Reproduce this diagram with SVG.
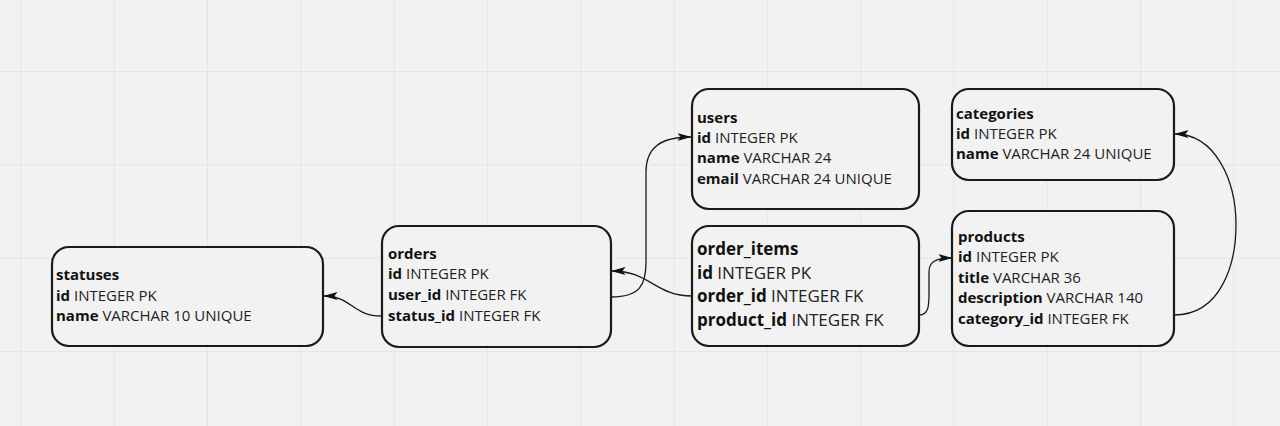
<svg xmlns="http://www.w3.org/2000/svg" width="1280" height="426" viewBox="0 0 1280 426">
  <defs>
    <pattern id="grid" x="20.4" y="-22.3" width="93.3" height="93.3" patternUnits="userSpaceOnUse">
      <path d="M0,0 L0,93.3 M0,0 L93.3,0" fill="none" stroke="#e4e4e4" stroke-width="2"/>
    </pattern>
    <marker id="arrow" viewBox="0 0 14 8" refX="13.5" refY="4" markerWidth="14" markerHeight="8" markerUnits="userSpaceOnUse" orient="auto">
      <path d="M0,0 L14,4 L0,8 L3,4 Z" fill="#111"/>
    </marker>
  </defs>
  <style>
    .box { fill: #f2f2f2; stroke: #1a1a1a; stroke-width: 2.2; }
    .t { font-family: "Open Sans", "Noto Sans", "DejaVu Sans", sans-serif; font-size: 15px; fill: #222; }
    .big { font-size: 17px; }
    .b { font-weight: 700; fill: #111; }
    .conn { fill: none; stroke: #1a1a1a; stroke-width: 1.3; marker-end: url(#arrow); }
  </style>
  <rect x="0" y="0" width="1280" height="426" fill="#f2f2f2"/>
  <rect x="0" y="0" width="1280" height="426" fill="url(#grid)"/>

  <g id="connectors">
    <path class="conn" d="M382,316 C352,316 352,296 324,296"/>
    <path class="conn" d="M611,297 C640,297 646,285 646,262 L646,172 C646,148 660,137 691,137"/>
    <path class="conn" d="M692,296 C655,296 650,271 612,271"/>
    <path class="conn" d="M919,315 C929,315 929,305 929,292 L929,272 C929,262 935,258 952,258"/>
    <path class="conn" d="M1174,315 C1222,315 1236,262 1236,225 C1236,180 1215,134 1175,134"/>
  </g>

  <g id="statuses">
    <rect class="box" x="52" y="247" width="271" height="99" rx="17"/>
    <text class="t" x="56" y="280"><tspan class="b">statuses</tspan></text>
    <text class="t" x="56" y="301"><tspan class="b">id</tspan> INTEGER PK</text>
    <text class="t" x="56" y="321"><tspan class="b">name</tspan> VARCHAR 10 UNIQUE</text>
  </g>

  <g id="orders">
    <rect class="box" x="382" y="226" width="229" height="121" rx="17"/>
    <text class="t" x="388" y="259"><tspan class="b">orders</tspan></text>
    <text class="t" x="388" y="279"><tspan class="b">id</tspan> INTEGER PK</text>
    <text class="t" x="388" y="300"><tspan class="b">user_id</tspan> INTEGER FK</text>
    <text class="t" x="388" y="321"><tspan class="b">status_id</tspan> INTEGER FK</text>
  </g>

  <g id="users">
    <rect class="box" x="692" y="89" width="227" height="120" rx="17"/>
    <text class="t" x="697" y="123"><tspan class="b">users</tspan></text>
    <text class="t" x="697" y="143"><tspan class="b">id</tspan> INTEGER PK</text>
    <text class="t" x="697" y="163"><tspan class="b">name</tspan> VARCHAR 24</text>
    <text class="t" x="697" y="184"><tspan class="b">email</tspan> VARCHAR 24 UNIQUE</text>
  </g>

  <g id="order_items">
    <rect class="box" x="692" y="226" width="227" height="120" rx="17"/>
    <text class="t big" x="697" y="255"><tspan class="b">order_items</tspan></text>
    <text class="t big" x="697" y="279"><tspan class="b">id</tspan> INTEGER PK</text>
    <text class="t big" x="697" y="302"><tspan class="b">order_id</tspan> INTEGER FK</text>
    <text class="t big" x="697" y="326"><tspan class="b">product_id</tspan> INTEGER FK</text>
  </g>

  <g id="categories">
    <rect class="box" x="952" y="89" width="222" height="91" rx="17"/>
    <text class="t" x="956" y="119"><tspan class="b">categories</tspan></text>
    <text class="t" x="956" y="139"><tspan class="b">id</tspan> INTEGER PK</text>
    <text class="t" x="956" y="159"><tspan class="b">name</tspan> VARCHAR 24 UNIQUE</text>
  </g>

  <g id="products">
    <rect class="box" x="952" y="211" width="222" height="135" rx="17"/>
    <text class="t" x="958" y="242"><tspan class="b">products</tspan></text>
    <text class="t" x="958" y="262"><tspan class="b">id</tspan> INTEGER PK</text>
    <text class="t" x="958" y="283"><tspan class="b">title</tspan> VARCHAR 36</text>
    <text class="t" x="958" y="303"><tspan class="b">description</tspan> VARCHAR 140</text>
    <text class="t" x="958" y="324"><tspan class="b">category_id</tspan> INTEGER FK</text>
  </g>
</svg>
